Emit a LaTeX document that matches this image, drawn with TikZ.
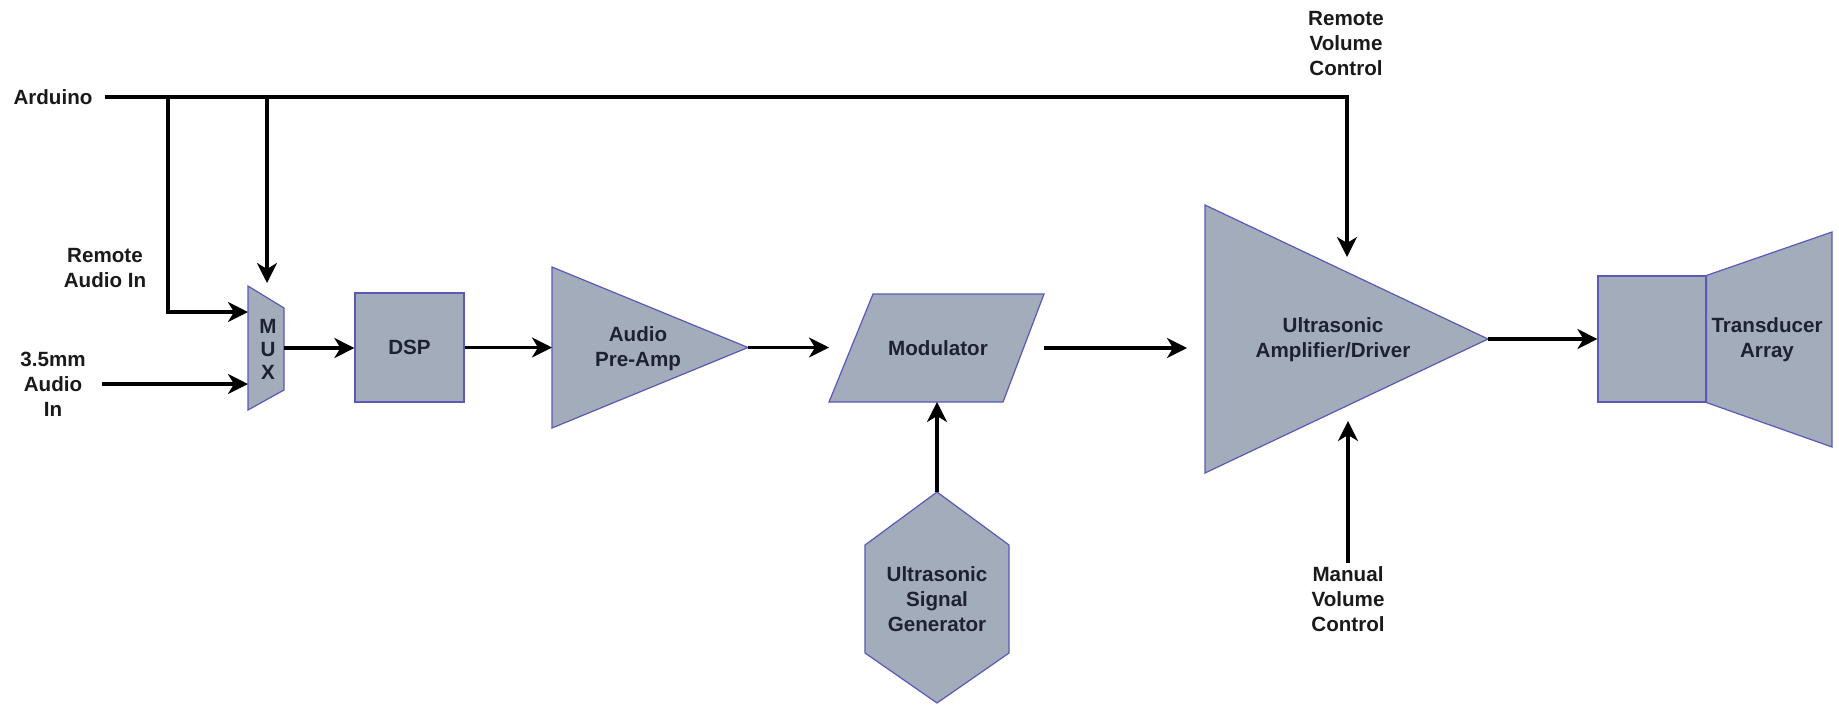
\documentclass[tikz,border=0pt]{standalone}
\usepackage{fontspec}
\setmainfont{Liberation Sans}
\usetikzlibrary{arrows.meta,calc}

\definecolor{blockfill}{HTML}{A3ACBA}
\definecolor{blockline}{HTML}{5A58B8}
\definecolor{blocktext}{HTML}{1E2230}
\definecolor{labeltext}{HTML}{1A1A1A}

\begin{document}
\begin{tikzpicture}[x=0.5pt,y=-0.5pt,
  font=\fontsize{10.3}{12.5}\selectfont\bfseries,
  block/.style={fill=blockfill, draw=blockline, line width=0.6pt, text=blocktext, align=center},
  frame/.style={inner sep=0pt, outer sep=0pt},
  boxtxt/.style={text=blocktext, align=center, inner sep=0pt},
  lbl/.style={text=labeltext, align=center},
  arr/.style={draw=black, line width=1.6pt,
    -{Stealth[length=10pt, width=10pt, inset=3pt]}}]

\useasboundingbox (0,0) rectangle (1839,707);

% ---------- blocks ----------
% multiplexer (trapezoid)
\node[frame, minimum width=18pt, minimum height=62pt] (mux) at (266,348) {};
\filldraw[block] (mux.north west) -- ($(mux.north east)+(0,22)$)
  -- ($(mux.south east)+(0,-20)$) -- (mux.south west) -- cycle;
\node[boxtxt, font=\fontsize{10.3}{11.5}\selectfont\bfseries] (muxt) at (268,349) {M\\U\\X};

% DSP
\node[block, minimum width=54.5pt, minimum height=54.5pt] (dsp) at (409.5,347.5) {DSP};

% audio pre-amplifier (triangle)
\node[frame, minimum width=98pt, minimum height=80.5pt] (pre) at (650,347.5) {};
\filldraw[block] (pre.north west) -- (pre.east) -- (pre.south west) -- cycle;
\node[boxtxt] (pret) at (638,349) {Audio\\Pre-Amp};

% modulator (parallelogram)
\node[frame, minimum width=107.5pt, minimum height=54pt] (mod) at (936.5,348) {};
\filldraw[block] ($(mod.north west)+(44,0)$) -- (mod.north east)
  -- ($(mod.south east)+(-41,0)$) -- (mod.south west) -- cycle;
\node[boxtxt] (modt) at (938,348) {Modulator};

% ultrasonic signal generator (hexagon)
\node[frame, minimum width=72pt, minimum height=105.5pt] (gen) at (937,597.5) {};
\filldraw[block] (gen.north) -- ($(gen.north east)+(0,53)$)
  -- ($(gen.south east)+(0,-50)$) -- (gen.south)
  -- ($(gen.south west)+(0,-50)$) -- ($(gen.north west)+(0,53)$) -- cycle;
\node[boxtxt] (gent) at (937,599) {Ultrasonic\\Signal\\Generator};

% ultrasonic amplifier / driver (triangle)
\node[frame, minimum width=141.5pt, minimum height=134pt] (amp) at (1346.5,339) {};
\filldraw[block] (amp.north west) -- (amp.east) -- (amp.south west) -- cycle;
\node[boxtxt] (ampt) at (1333,340) {Ultrasonic\\Amplifier/Driver};

% transducer array (speaker symbol)
\node[block, minimum width=54pt, minimum height=63pt] (tr) at (1652,339) {};
\node[frame, minimum width=63pt, minimum height=107.5pt] (fl) at (1769,339.5) {};
\filldraw[block] (tr.north east) -- (fl.north east) -- (fl.south east)
  -- (tr.south east) -- cycle;
\node[boxtxt] (flt) at (1767,340) {Transducer\\Array};

% ---------- labels ----------
\node[lbl, inner xsep=6pt] (ard) at (53,97) {Arduino};
\node[lbl] (ra) at (105,268) {Remote\\Audio In};
\node[lbl, inner xsep=6pt] (jack) at (53,384) {3.5mm\\Audio\\In};
\node[lbl] (rvl) at (1346,44) {Remote\\Volume\\Control};
\node[lbl] (mvl) at (1348,599) {Manual\\Volume\\Control};

% ---------- connectors ----------
\coordinate (j1) at (168,97);
\coordinate (j2) at (267,97);

\draw[arr] (ard.east) -| ($(amp.north)+(0.5,52)$);
\draw[arr] (j1) |- ($(mux.west)+(0,-36)$);
\draw[arr] (j2) -- ($(mux.north)+(1,-3)$);
\draw[arr] ([xshift=2pt]jack.east) -- (jack.east -| mux.west);
\draw[arr] (mux.east) -- (mux.east -| dsp.west);
\draw[arr] (dsp.east) -- (dsp.east -| pre.west);
\draw[arr] (pre.east) -- (pre.east -| mod.west);
\draw[arr] (mod.east) -- ($(amp.west)+(-18,9)$);
\draw[arr] (gen.north) -- (gen.north |- mod.south);
\draw[arr] ([yshift=-2pt]mvl.north) -- ($(amp.south)+(1.5,-52)$);
\draw[arr] (amp.east) -- (tr.west);

\end{tikzpicture}
\end{document}
